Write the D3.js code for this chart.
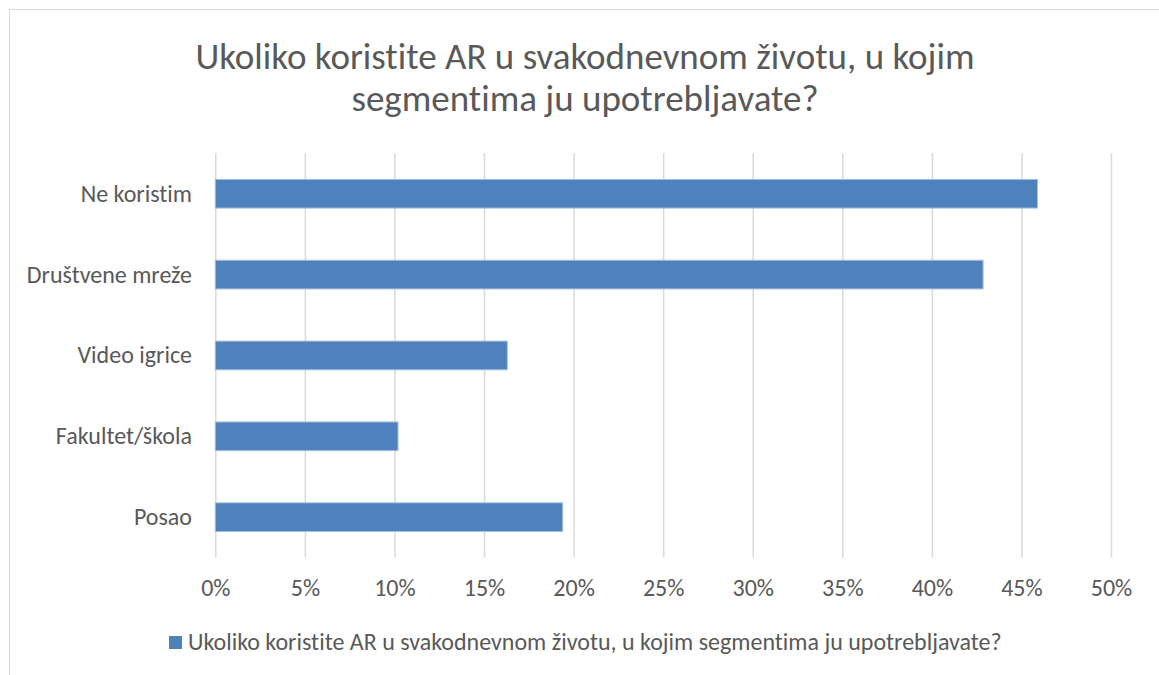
<!DOCTYPE html>
<html>
<head>
<meta charset="utf-8">
<script src="https://cdn.jsdelivr.net/npm/d3@7"></script>
<style>
  body { margin: 0; background: #fff; }
  text { font-family: Carlito, Lato, "Open Sans", sans-serif; fill: #595959; font-variant-ligatures: none; }
</style>
</head>
<body>
<div id="chart"></div>
<script>
// chart data
var categories = ["Ne koristim", "Društvene mreže", "Video igrice", "Fakultet/škola", "Posao"];
var values = [0.459, 0.4286, 0.163, 0.102, 0.1939];
var ticks = [0, 0.05, 0.1, 0.15, 0.2, 0.25, 0.3, 0.35, 0.4, 0.45, 0.5];
var titleLines = ["Ukoliko koristite AR u svakodnevnom životu, u kojim", "segmentima ju upotrebljavate?"];
var seriesName = "Ukoliko koristite AR u svakodnevnom životu, u kojim segmentima ju upotrebljavate?";

var width = 1159, height = 675;
var margin = { top: 153.3, left: 215.3, right: 48, bottom: 117.4 };

var svg = d3.select("#chart")
  .append("svg")
    .attr("width", width)
    .attr("height", height);

// chart border
svg.append("rect")
  .attr("x", 9.5).attr("y", 9.5)
  .attr("width", width + 10).attr("height", height + 10)
  .attr("fill", "none")
  .attr("stroke", "#d9d9d9");

var x = d3.scaleLinear()
  .domain([0, 0.5])
  .range([margin.left, width - margin.right]);

var y = d3.scaleBand()
  .domain(categories)
  .range([margin.top, height - margin.bottom])
  .paddingInner(0.645)
  .paddingOuter(0.3225);

// title
svg.append("g").selectAll("text")
  .data(titleLines)
  .enter().append("text")
    .attr("x", 585)
    .attr("y", function(d, i){ return 69 + i * 42; })
    .attr("text-anchor", "middle")
    .style("font-size", "37px")
    .style("font-weight", 300)
    .text(function(d){ return d; });

// vertical gridlines + tick labels
svg.append("g")
  .attr("transform", "translate(0," + (height - margin.bottom) + ")")
  .call(d3.axisBottom(x).tickValues(ticks).tickSize(-(height - margin.top - margin.bottom)).tickFormat(d3.format(".0%")).tickPadding(21))
  .call(function(g){ g.select(".domain").remove(); })
  .call(function(g){ g.selectAll(".tick line").attr("stroke", "#d9d9d9").attr("stroke-width", 1.5); })
  .call(function(g){ g.selectAll(".tick text").style("font-size", "24px").attr("dy", "0.71em").attr("fill", null); });

// bars
svg.append("g").selectAll("rect")
  .data(values)
  .enter().append("rect")
    .attr("x", x(0))
    .attr("y", function(d, i){ return y(categories[i]); })
    .attr("width", function(d){ return x(d) - x(0); })
    .attr("height", y.bandwidth())
    .attr("fill", "#4f81bd")
    .attr("stroke", "#a7bfde")
    .attr("stroke-width", 1);

// category labels
svg.append("g").selectAll("text")
  .data(categories)
  .enter().append("text")
    .attr("x", 192)
    .attr("y", function(d){ return y(d) + y.bandwidth() / 2; })
    .attr("dy", "0.33em")
    .attr("text-anchor", "end")
    .style("font-size", "24px")
    .text(function(d){ return d; });

// legend
var legend = svg.append("g");
legend.append("rect")
  .attr("x", 169).attr("y", 636)
  .attr("width", 13).attr("height", 13)
  .attr("fill", "#4f81bd");
legend.append("text")
  .attr("x", 188).attr("y", 650)
  .style("font-size", "24px")
  .text(seriesName);
</script>
</body>
</html>
